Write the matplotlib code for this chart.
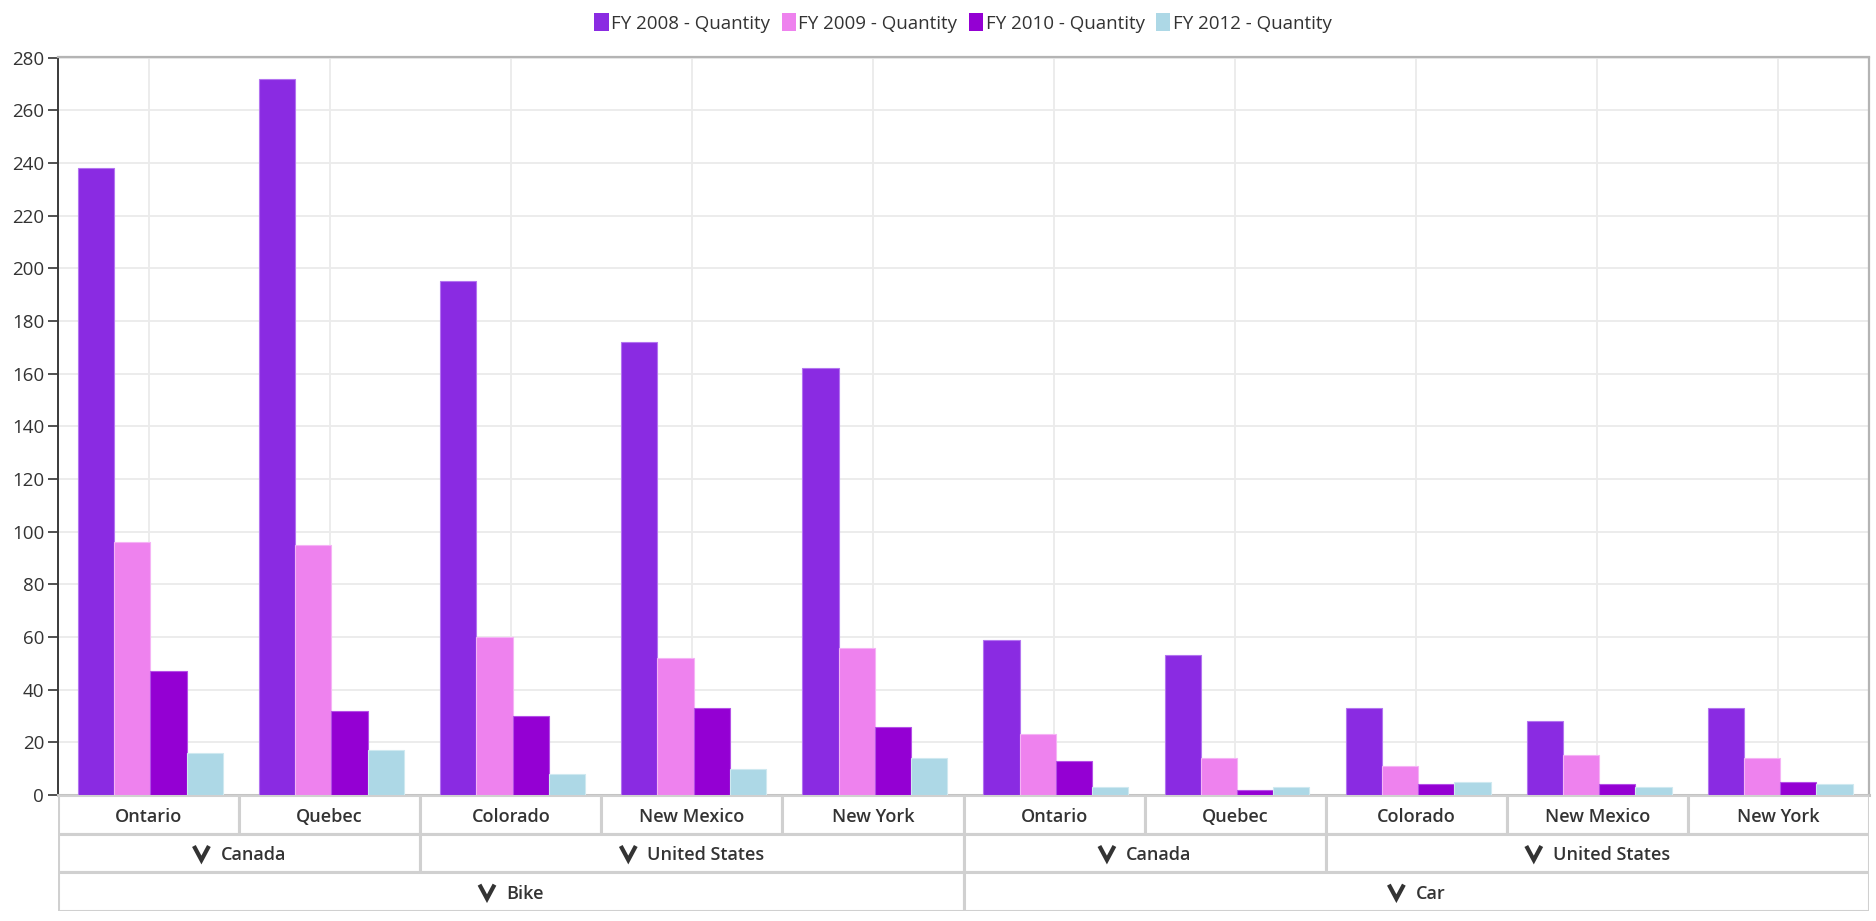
import numpy as np
import matplotlib
matplotlib.use("Agg")
import matplotlib.pyplot as plt
from matplotlib.patches import Patch, Rectangle
from matplotlib.lines import Line2D

plt.rcParams['font.family'] = ['Open Sans', 'DejaVu Sans']

states = ['Ontario', 'Quebec', 'Colorado', 'New Mexico', 'New York',
          'Ontario', 'Quebec', 'Colorado', 'New Mexico', 'New York']
countries = [('Canada', 0, 2), ('United States', 2, 5), ('Canada', 5, 7), ('United States', 7, 10)]
vehicles = [('Bike', 0, 5), ('Car', 5, 10)]

series_names = ['FY 2008 - Quantity', 'FY 2009 - Quantity', 'FY 2010 - Quantity', 'FY 2012 - Quantity']
fy2008 = [238, 272, 195, 172, 162, 59, 53, 33, 28, 33]
fy2009 = [96, 95, 60, 52, 56, 23, 14, 11, 15, 14]
fy2010 = [47, 32, 30, 33, 26, 13, 2, 4, 4, 5]
fy2012 = [16, 17, 8, 10, 14, 3, 3, 5, 3, 4]
colors = ['#8A2BE2', '#EE82EE', '#9400D3', '#ADD8E6']
edge_colors = ['#b374f0', '#f5b3f5', '#b44fe6', '#cfe9f0']

W, H = 1876, 921
fig = plt.figure(figsize=(W / 100, H / 100), dpi=100)

x0, x1 = 58, 1869
ytop, yzero, ybot = 57.5, 795, 911
ax = fig.add_axes([x0 / W, 1 - yzero / H, (x1 - x0) / W, (yzero - ytop) / H])
cax = fig.add_axes([x0 / W, 1 - ybot / H, (x1 - x0) / W, (ybot - yzero) / H])

x = np.arange(len(states)) + 0.5
bw = 0.2
for i, vals in enumerate([fy2008, fy2009, fy2010, fy2012]):
    ax.bar(x + (i - 1.5) * bw + 0.01, vals, width=bw, color=colors[i],
           edgecolor=edge_colors[i], linewidth=0.8, zorder=3)

ax.set_xlim(0, 10)
ax.set_ylim(0, 280)
ax.set_yticks(np.arange(0, 281, 20))
ax.set_xticks(x)
ax.set_xticklabels([])
ax.tick_params(axis='x', length=0)
ax.tick_params(axis='y', length=7, width=1.2, color='#333333', labelcolor='#333333',
               labelsize=13.5, pad=3)
ax.grid(True, color='#ebebeb', linewidth=1.3, zorder=0)
for side in ['top', 'right']:
    ax.spines[side].set_color('#b4b4b4')
    ax.spines[side].set_linewidth(1.6)
ax.spines['bottom'].set_color('#c4c4c4')
ax.spines['bottom'].set_linewidth(2.2)
ax.spines['left'].set_color('#3a3a3a')
ax.spines['left'].set_linewidth(1.4)

# category header cells
cax.set_xlim(0, 10)
cax.set_ylim(0, 3)
cax.axis('off')
border = '#d0d0d0'
for i, s in enumerate(states):
    cax.add_patch(Rectangle((i, 2), 1, 1, facecolor='white', edgecolor=border, lw=2.2))
for name, a, b in countries:
    cax.add_patch(Rectangle((a, 1), b - a, 1, facecolor='white', edgecolor=border, lw=2.2))
for name, a, b in vehicles:
    cax.add_patch(Rectangle((a, 0), b - a, 1, facecolor='white', edgecolor=border, lw=2.2))

lab_kw = dict(fontsize=13, fontweight='semibold', color='#333333', va='center')
dy = -0.06
for i, s in enumerate(states):
    cax.text(i + 0.5, 2.5 + dy, s, ha='center', **lab_kw)

fig.canvas.draw()
renderer = fig.canvas.get_renderer()
inv = cax.transData.inverted()


def chevron_label(cx, cy, label):
    t = cax.text(0, cy + dy, label, ha='left', **lab_kw)
    tw = t.get_window_extent(renderer).width
    chev_w, gap = 18, 10
    total = chev_w + gap + tw
    pcx, pcy = cax.transData.transform((cx, cy))
    left = pcx - total / 2
    tx, _ = inv.transform((left + chev_w + gap, pcy))
    t.set_x(tx)
    pts = [(left + 1.5, pcy + 7), (left + chev_w / 2, pcy - 7), (left + chev_w - 1.5, pcy + 7)]
    dpts = inv.transform(pts)
    cax.add_line(Line2D(dpts[:, 0], dpts[:, 1], color='#333333', lw=3.0,
                        solid_joinstyle='miter', solid_capstyle='butt'))


for name, a, b in countries:
    chevron_label((a + b) / 2, 1.5, name)
for name, a, b in vehicles:
    chevron_label((a + b) / 2, 0.5, name)

handles = [Patch(facecolor=c, edgecolor='none') for c in colors]
fig.legend(handles, series_names, loc='center', bbox_to_anchor=(963 / W, 1 - 23 / H),
           ncol=4, frameon=False, fontsize=13.5, handlelength=0.75, handleheight=1.05,
           handletextpad=0.15, columnspacing=0.6, labelcolor='#333333')

fig.savefig('out.png', dpi=100)
